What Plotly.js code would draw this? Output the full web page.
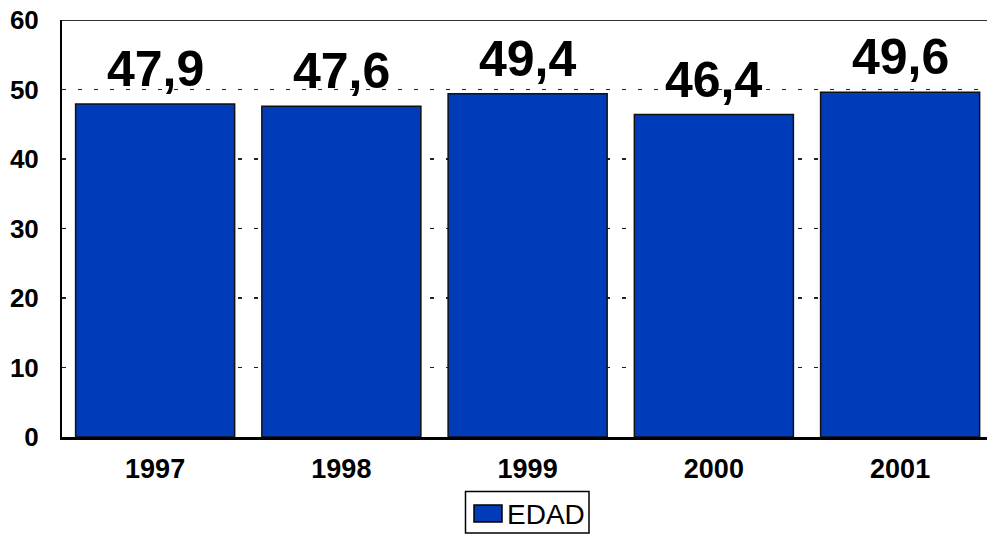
<!DOCTYPE html>
<html>
<head>
<meta charset="utf-8">
<script src="https://cdn.plot.ly/plotly-3.0.1.min.js"></script>
<style>html,body{margin:0;padding:0;background:#fff;}#chart{width:987px;height:534px;}</style>
</head>
<body>
<div id="chart"></div>
<script>
var years = ['1997', '1998', '1999', '2000', '2001'];
var edad = [47.9, 47.6, 49.4, 46.4, 49.6];
var seriesName = 'EDAD';
var yTicks = [0, 10, 20, 30, 40, 50, 60];

var W = 987, H = 534;
var M = {l: 62, r: 0, t: 20, b: 97};
var pw = W - M.l - M.r, ph = H - M.t - M.b;
function px(x) { return (x - M.l) / pw; }
function py(y) { return (H - M.b - y) / ph; }

var barColor = '#003CB9';
var font = 'Arial, "Liberation Sans", sans-serif';

var trace = {
  type: 'bar',
  x: years,
  y: edad,
  name: seriesName,
  marker: {color: barColor, line: {color: '#111', width: 1.5}},
  showlegend: false,
  hoverinfo: 'x+y'
};

var annotations = years.map(function (yr, i) {
  return {
    x: i, y: edad[i], xref: 'x', yref: 'y',
    text: '<b>' + edad[i].toFixed(1).replace('.', ',') + '</b>',
    showarrow: false, xanchor: 'center', yanchor: 'bottom', yshift: 5,
    font: {family: font, size: 50, color: '#000'}
  };
});

annotations.push({
  xref: 'paper', yref: 'paper', x: px(505), y: py(514),
  xanchor: 'left', yanchor: 'middle', showarrow: false,
  text: seriesName,
  font: {family: font, size: 28, color: '#000'}
});

var shapes = [
  {type: 'line', xref: 'paper', yref: 'y', x0: 0, x1: 1, y0: 60, y1: 60,
   line: {color: '#333', width: 2}},
  {type: 'rect', xref: 'paper', yref: 'paper', x0: px(465.5), x1: px(589), y0: py(533), y1: py(491.5),
   line: {color: '#000', width: 1.5}, fillcolor: '#fff'},
  {type: 'rect', xref: 'paper', yref: 'paper', x0: px(474), x1: px(502), y0: py(522), y1: py(505),
   line: {color: '#000', width: 1.5}, fillcolor: barColor}
];

var layout = {
  width: W, height: H,
  margin: M,
  paper_bgcolor: '#fff', plot_bgcolor: '#fff',
  showlegend: false,
  bargap: 0.146,
  xaxis: {
    type: 'category',
    range: [-0.5, -0.5 + pw / 186.25],
    showline: true, linecolor: '#000', linewidth: 2.5,
    ticks: '', showgrid: false, zeroline: false,
    tickfont: {family: font, size: 27, color: '#000', weight: 'bold'},
    ticklabelstandoff: 6,
    fixedrange: true
  },
  yaxis: {
    range: [0, 60],
    tickvals: yTicks,
    ticktext: yTicks.map(String),
    showline: true, linecolor: '#000', linewidth: 2,
    ticks: '', zeroline: false,
    showgrid: true, gridcolor: '#222', gridwidth: 1.2, griddash: '4px,12px',
    tickfont: {family: font, size: 26, color: '#000', weight: 'bold'},
    ticklabelstandoff: 16,
    fixedrange: true
  },
  annotations: annotations,
  shapes: shapes
};

Plotly.newPlot('chart', [trace], layout, {displayModeBar: false, staticPlot: true});
</script>
</body>
</html>
